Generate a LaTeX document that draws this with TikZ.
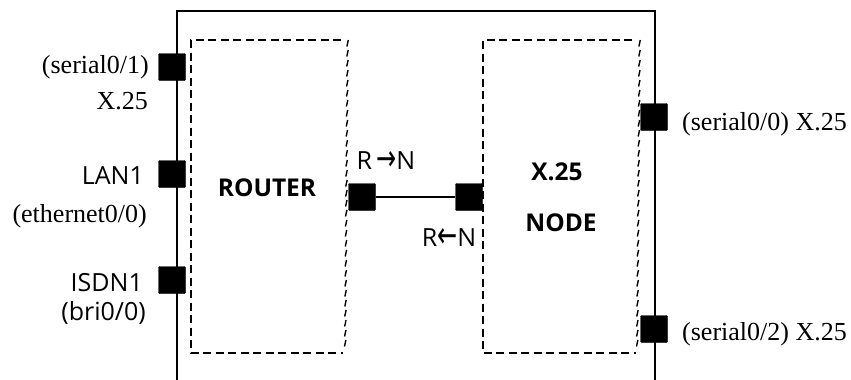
\documentclass[tikz,border=0pt]{standalone}
\usepackage{fontspec}
\setmainfont{Liberation Serif}
\newfontfamily\osans{Open Sans}
\newfontfamily\dv{DejaVu Sans}
\begin{document}
\begin{tikzpicture}[x=1pt,y=-1pt,
 port/.style={fill=black,draw=black,minimum size=27pt,inner sep=0pt,rounded corners=1pt},
 serif/.style={font=\fontsize{26}{27}\selectfont,inner sep=0pt},
 sans/.style={font=\osans\fontsize{25}{27}\selectfont,inner sep=0pt},
 bsans/.style={font=\osans\bfseries\fontsize{24.5}{27}\selectfont,inner sep=0pt},
 dbox/.style={line width=1.4pt,dash pattern=on 8pt off 4.5pt},
 sdash/.style={line width=1.4pt},
 wall/.style={line width=1.5pt},
 link/.style={line width=1.3pt}]
\useasboundingbox (0,0) rectangle (851,380);
% outer enclosure (open at the bottom)
\draw[wall] (177,380) -- (177,11) -- (655,11) -- (655,380);
% router dashed box
\draw[dbox] (341,40) -- (191,40) -- (191,353) -- (343,353);
\foreach \y in {40,50,...,346} \draw[sdash] ({348.6-\y*0.008},\y) -- ++(-1.4,6.5);
% x.25 node dashed box
\draw[dbox] (632,40) -- (483,40) -- (483,353) -- (636,353);
\foreach \y in {40,50,...,346} \draw[sdash] ({640.6-\y*0.008},\y) -- ++(-1.4,6.5);
% ports
\node[port] (p1) at (172,67) {};
\node[port] (p2) at (172,174) {};
\node[port] (p3) at (172,280) {};
\node[port] (m1) at (362,197) {};
\node[port] (m2) at (469,197) {};
\node[port] (p4) at (654,117) {};
\node[port] (p5) at (654,329) {};
\draw[link] (m1) -- (m2);
% left labels
\node[serif,anchor=east] (l1) at (149,67) {(serial0/1)};
\node[serif,anchor=east] (l1b) at (148,101) {X.25};
\node[sans,anchor=east] (l2) at (144,176) {LAN1};
\node[serif,anchor=east] (l2b) at (147,216) {(ethernet0/0)};
\node[sans,anchor=east] (l3) at (143,283) {ISDN1};
\node[sans,anchor=east] (l3b) at (146,313) {(bri0/0)};
% right labels
\node[serif,anchor=west] (r1) at (682,124) {(serial0/0) X.25};
\node[serif,anchor=west] (r2) at (682,334) {(serial0/2) X.25};
% box titles
\node[bsans] (rt) at (267,188) {ROUTER};
\node[bsans] (xn1) at (557,172) {X.25};
\node[bsans] (xn2) at (561,223) {NODE};
% direction labels
\node[sans] (rn) at (386,161) {R\,\raisebox{-1pt}{\scalebox{1.0}[1.5]{\dv\fontsize{24}{26}\selectfont →}}N};
\node[sans] (nr) at (449,238) {R\raisebox{-1pt}{\scalebox{1.0}[1.5]{\dv\fontsize{24}{26}\selectfont ←}}N};
\end{tikzpicture}
\end{document}
